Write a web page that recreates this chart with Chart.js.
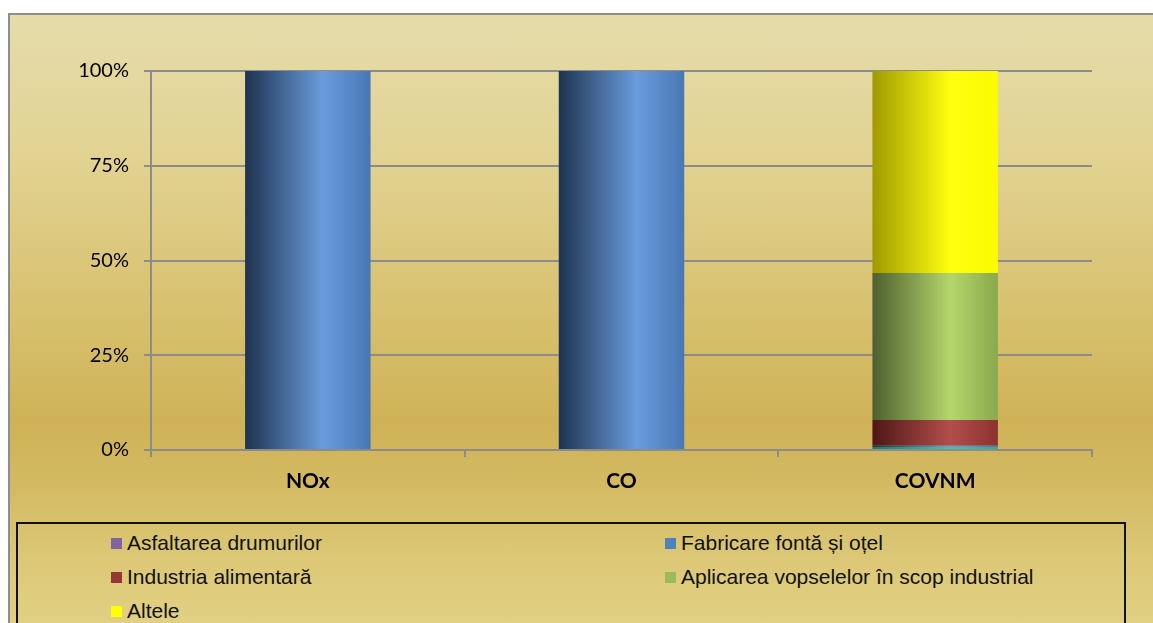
<!DOCTYPE html>
<html>
<head>
<meta charset="utf-8">
<script src="https://cdn.jsdelivr.net/npm/chart.js@4.4.1/dist/chart.umd.min.js"></script>
<style>
  html, body { margin: 0; padding: 0; background: #fff; overflow: hidden; }
  #frame {
    position: absolute; left: 8px; top: 13px; width: 1160px; height: 640px;
    border: 2px solid #8e8e8e; box-sizing: border-box;
    background: linear-gradient(to bottom, #e5dcab 0%, #e2d392 22%, #d6be6a 50%, #cfb257 64%, #d3ba62 74%, #dcc877 86%, #e4d488 100%);
  }
  #wrap { position: absolute; left: 0; top: 0; width: 1153px; height: 515px; }
  #legend {
    position: absolute; left: 16px; top: 522px; width: 1110px; height: 130px;
    border: 2px solid #111; box-sizing: border-box;
    font-family: "Liberation Sans", Arial, sans-serif; font-size: 21px; color: #111;
  }
  .item { position: absolute; white-space: nowrap; line-height: 22px; }
  .item i { display: inline-block; width: 11px; height: 11px; margin-right: 5px; vertical-align: 1px; }
</style>
</head>
<body>
<div id="frame"></div>
<div id="wrap"><canvas id="myChart" width="1153" height="515"></canvas></div>
<div id="legend"></div>
<script>
// categorii si ponderi (%) pe surse
var categorii = ['NOx', 'CO', 'COVNM'];
var surse = ['Asfaltarea drumurilor', 'Fabricare fontă și oțel', 'Industria alimentară', 'Aplicarea vopselelor în scop industrial', 'Altele'];
var altaSursa = [0, 0, 0.8];
var asfaltare = [0, 0, 0];
var fabricare = [100, 100, 0.3];
var alimentara = [0, 0, 6.8];
var vopsele = [0, 0, 38.8];
var altele = [0, 0, 53.3];
var yTicks = [0, 25, 50, 75, 100];

// culori: [stanga, mijloc, dreapta] pentru efectul de cilindru
var culori = {
    teal: ['#1f7a66', '#45c6a4', '#35a98c'],
    purple: ['#4b3a66', '#9a83c4', '#7a62a6'],
    blue: ['#1e3350', '#6a9cdc', '#4877b4'],
    red: ['#4e1616', '#b24e4c', '#8c3231'],
    green: ['#4d5f2f', '#b5d66c', '#89a94c'],
    yellow: ['#a09a00', '#ffff10', '#fbfb00']
};
var legendaCulori = ['#8064a2', '#4f81bd', '#953735', '#9bbb59', '#ffff00'];

function gradient(c) {
    return function(context) {
        var chart = context.chart;
        var x = chart.scales.x;
        if (!chart.chartArea || !x) return c[1];
        var cx = x.getPixelForValue(context.dataIndex);
        var w = (x.width / categorii.length) * 0.4;
        var g = chart.ctx.createLinearGradient(cx - w / 2, 0, cx + w / 2, 0);
        g.addColorStop(0, c[0]);
        g.addColorStop(0.62, c[1]);
        g.addColorStop(1, c[2]);
        return g;
    };
}

function serie(label, data, c) {
    return {
        label: label,
        data: data,
        backgroundColor: gradient(c),
        borderWidth: 0,
        categoryPercentage: 1,
        barPercentage: 0.4
    };
}

var grid = '#8c8c8c';
var ctx = document.getElementById('myChart').getContext('2d');
var myChart = new Chart(ctx, {
    type: 'bar',
    data: {
        labels: categorii,
        datasets: [
            serie('', altaSursa, culori.teal),
            serie(surse[0], asfaltare, culori.purple),
            serie(surse[1], fabricare, culori.blue),
            serie(surse[2], alimentara, culori.red),
            serie(surse[3], vopsele, culori.green),
            serie(surse[4], altele, culori.yellow)
        ]
    },
    options: {
        responsive: false,
        animation: false,
        layout: { padding: { left: 0, right: 61, top: 71, bottom: 0 } },
        plugins: { legend: { display: false }, tooltip: { enabled: false } },
        scales: {
            x: {
                stacked: true,
                offset: true,
                afterFit: function(s) { s.height = 65; },
                grid: { offset: true, drawOnChartArea: false, color: grid, lineWidth: 2, tickLength: 7 },
                border: { color: grid, width: 2 },
                ticks: { color: '#000', padding: 12, font: { family: 'Lato', size: 21, weight: 'bold' } }
            },
            y: {
                stacked: true,
                min: 0,
                max: 100,
                afterFit: function(s) { s.width = 151; },
                afterBuildTicks: function(s) { s.ticks = yTicks.map(function(v) { return { value: v }; }); },
                grid: { color: grid, lineWidth: 2, tickLength: 7 },
                border: { color: grid, width: 2 },
                ticks: {
                    color: '#000', padding: 15,
                    font: { family: 'Lato', size: 20 },
                    callback: function(v) { return v + '%'; }
                }
            }
        }
    }
});

// legenda pe doua coloane
var legend = document.getElementById('legend');
surse.forEach(function(nume, i) {
    var el = document.createElement('div');
    el.className = 'item';
    el.style.left = (i % 2 === 0 ? 93 : 647) + 'px';
    el.style.top = (8 + Math.floor(i / 2) * 34) + 'px';
    el.innerHTML = '<i style="background:' + legendaCulori[i] + '"></i>' + nume;
    legend.appendChild(el);
});
</script>
</body>
</html>
